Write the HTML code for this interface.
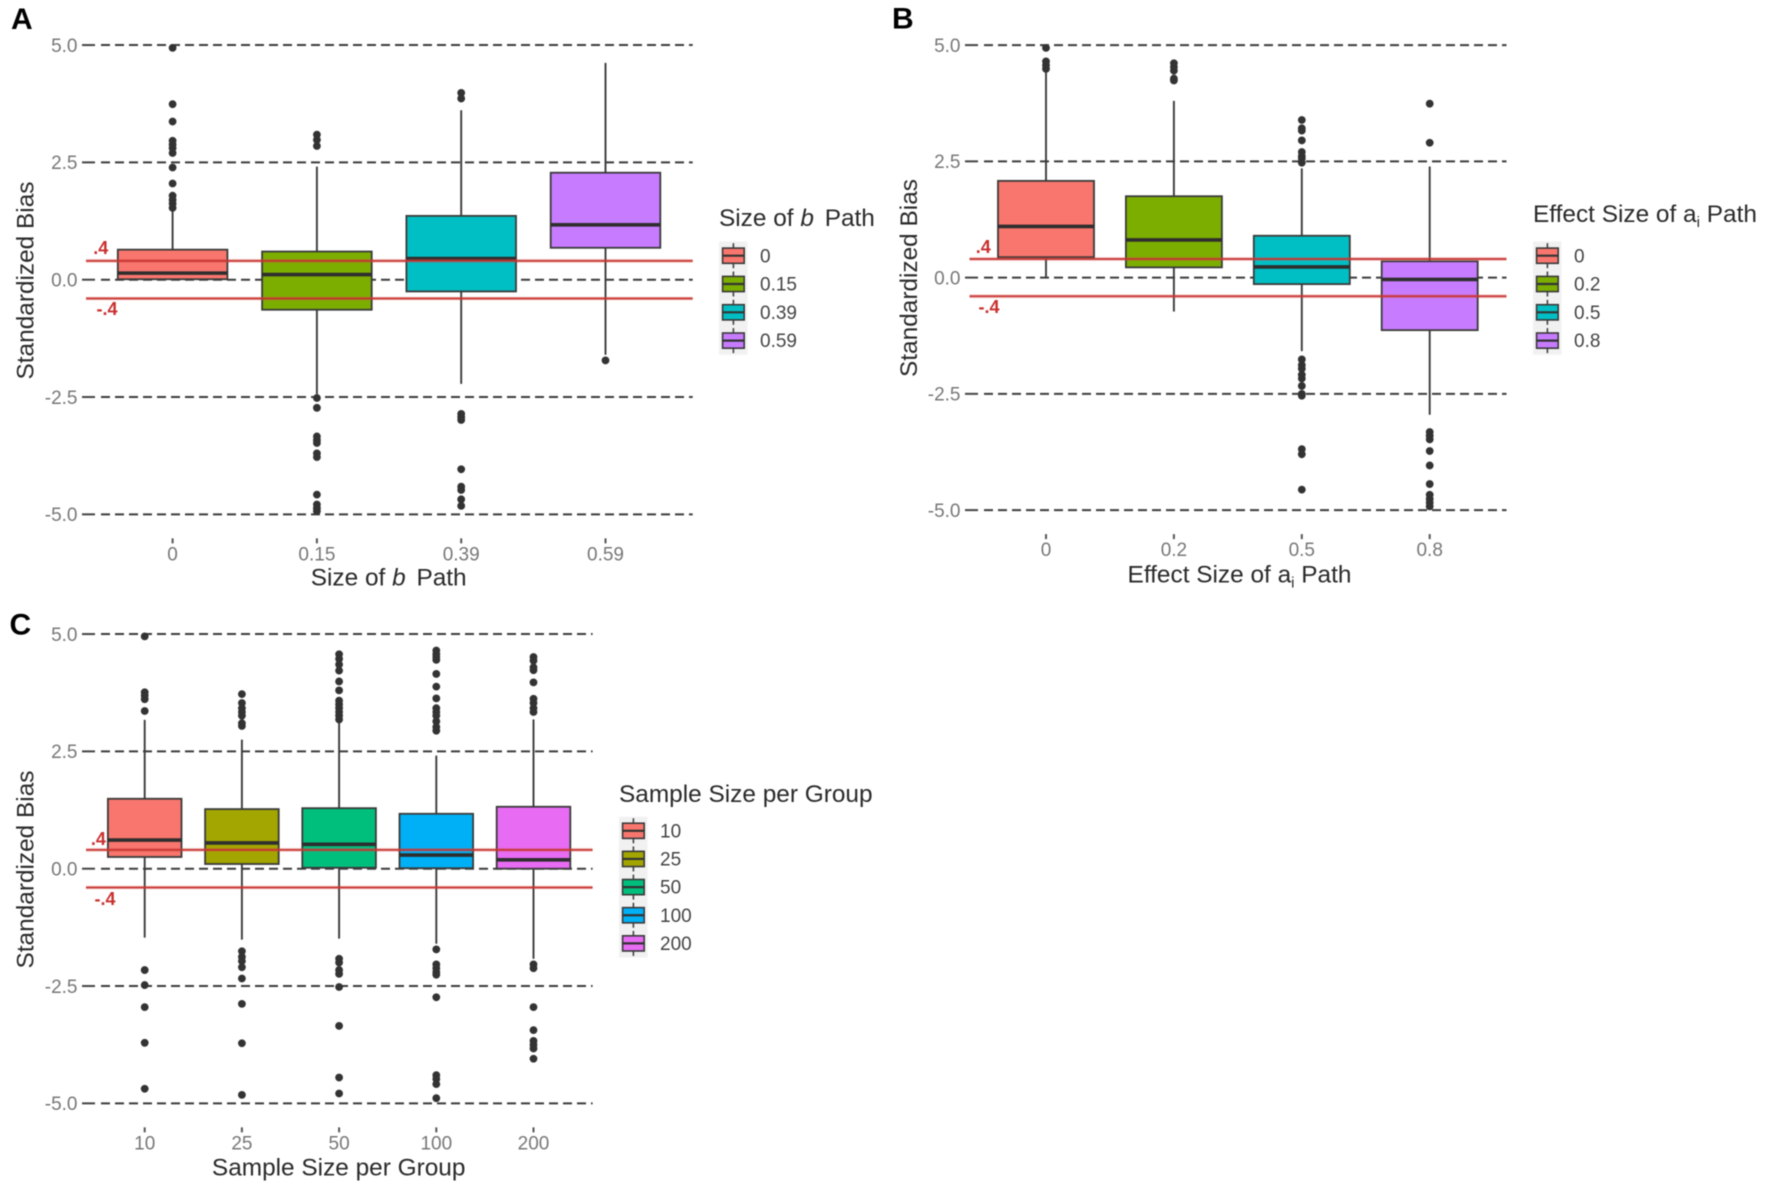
<!DOCTYPE html>
<html lang="en">
<head>
<meta charset="utf-8">
<title>Standardized Bias Boxplots</title>
<style>
html,body{margin:0;padding:0;background:#fff;}
svg{display:block;filter:blur(0.5px);font-family:"Liberation Sans",sans-serif;}
</style>
</head>
<body>
<svg id="chart" xmlns="http://www.w3.org/2000/svg" width="1772" height="1196" viewBox="0 0 1772 1196"></svg>
<script>
// Shared axis
const yTickValues = [5, 2.5, 0, -2.5, -5];
const yTickLabels = ["5.0", "2.5", "0.0", "-2.5", "-5.0"];
const referenceValues = [0.4, -0.4];
const referenceLabels = [".4", "-.4"];

// Panel A: size of b path
const aCategories = ["0", "0.15", "0.39", "0.59"];
const aQ3 = [0.64, 0.60, 1.36, 2.28];
const aMedian = [0.14, 0.11, 0.45, 1.17];
const aQ1 = [0.01, -0.64, -0.25, 0.68];
const aWhiskerHigh = [1.5, 2.41, 3.61, 4.62];
const aWhiskerLow = [0.01, -2.44, -2.22, -1.6];
const aOutliers = [
  [4.94, 3.74, 3.37, 2.96, 2.88, 2.8, 2.7, 2.39, 2.05, 1.79, 1.7, 1.62, 1.53],
  [3.09, 2.98, 2.85, -2.52, -2.73, -3.34, -3.42, -3.48, -3.7, -3.78, -4.58, -4.79, -4.87, -4.93],
  [3.98, 3.86, -2.86, -2.93, -2.99, -4.04, -4.41, -4.48, -4.68, -4.82],
  [-1.72]
];

// Panel B: effect size of a_i path
const bCategories = ["0", "0.2", "0.5", "0.8"];
const bQ3 = [2.08, 1.75, 0.90, 0.35];
const bMedian = [1.10, 0.81, 0.23, -0.04];
const bQ1 = [0.44, 0.22, -0.14, -1.13];
const bWhiskerHigh = [4.44, 3.8, 2.35, 2.39];
const bWhiskerLow = [0, -0.73, -1.58, -2.95];
const bOutliers = [
  [4.94, 4.65, 4.57, 4.49],
  [4.61, 4.53, 4.45, 4.28, 4.24],
  [3.39, 3.21, 3.16, 2.95, 2.7, 2.61, 2.56, 2.47, -1.76, -1.88, -1.96, -2.09, -2.17, -2.33, -2.5, -2.54, -3.69, -3.8, -4.56],
  [3.74, 2.9, -3.32, -3.4, -3.48, -3.73, -4.04, -4.44, -4.67, -4.76, -4.84, -4.92]
];

// Panel C: sample size per group
const cCategories = ["10", "25", "50", "100", "200"];
const cQ3 = [1.49, 1.27, 1.29, 1.17, 1.32];
const cMedian = [0.61, 0.55, 0.52, 0.29, 0.19];
const cQ1 = [0.25, 0.10, 0.02, 0.01, 0];
const cWhiskerHigh = [3.17, 2.75, 3.14, 2.41, 3.18];
const cWhiskerLow = [-1.47, -1.51, -1.49, -1.6, -1.92];
const cOutliers = [
  [4.95, 3.76, 3.69, 3.61, 3.36, -2.16, -2.48, -2.95, -3.71, -4.69],
  [3.72, 3.53, 3.42, 3.34, 3.26, 3.1, 3.04, -1.76, -1.88, -1.97, -2.1, -2.34, -2.88, -3.72, -4.82],
  [4.57, 4.47, 4.35, 4.22, 3.99, 3.8, 3.58, 3.5, 3.42, 3.34, 3.26, 3.18, -1.92, -2.0, -2.16, -2.24, -2.52, -3.35, -4.45, -4.79],
  [4.65, 4.57, 4.51, 4.45, 4.15, 3.88, 3.63, 3.42, 3.34, 3.26, 3.14, 3.02, 2.94, -1.72, -2.04, -2.12, -2.2, -2.26, -2.74, -4.4, -4.48, -4.59, -4.89],
  [4.51, 4.43, 4.29, 4.23, 3.97, 3.62, 3.53, 3.42, 3.34, -2.04, -2.12, -2.95, -3.44, -3.67, -3.75, -3.83, -4.05]
];

const colorsFour = ["#F8766D", "#7CAE00", "#00BFC4", "#C77CFF"];
const colorsFive = ["#F8766D", "#A3A500", "#00BF7D", "#00B0F6", "#E76BF3"];

const svg = document.getElementById('chart');
const NS = 'http://www.w3.org/2000/svg';

function mk(parent, tag, attrs, name, text) {
  const el = document.createElementNS(NS, tag);
  for (const k in attrs) el.setAttribute(k, attrs[k]);
  
  
  if (text !== undefined) el.textContent = text;
  parent.appendChild(el);
  return el;
}

function addTitle(parent, attrs, name, parts) {
  const t = mk(parent, 'text', attrs, name);
  parts.forEach(function (p) {
    const s = document.createElementNS(NS, 'tspan');
    s.textContent = p.text;
    if (p.italic) s.setAttribute('font-style', 'italic');
    if (p.sub) { s.setAttribute('font-size', '15'); s.setAttribute('dy', '5'); }
    if (p.dy) s.setAttribute('dy', p.dy);
    if (p.dx) s.setAttribute('dx', p.dx);
    t.appendChild(s);
  });
  return t;
}

function drawPanel(p) {
  const g = mk(svg, 'g', {}, p.id + '-panel');
  const yScale = function (v) { return p.yZero - v * p.yUnit; };
  const xScale = function (i) { return p.xStart + i * p.xStep; };

  mk(g, 'text', {x: p.letterX, y: p.letterY, 'font-size': 30, 'font-weight': 'bold', fill: '#000'}, p.id + '-panel-letter', p.letter);

  // y axis: ticks, labels and dashed reference lines
  yTickValues.forEach(function (v, i) {
    const y = yScale(v);
    mk(g, 'text', {x: p.left - 4.5, y: y + 6.8, 'font-size': 19, 'text-anchor': 'end', fill: '#777'}, p.id + '-y-tick-label', yTickLabels[i]);
    mk(g, 'line', {x1: p.left, x2: p.left + 13, y1: y, y2: y, stroke: '#444', 'stroke-width': 2}, p.id + '-y-tick');
    mk(g, 'line', {x1: p.left + 19, x2: p.right, y1: y, y2: y, stroke: '#3c3c3c', 'stroke-width': 2, 'stroke-dasharray': '9 5'}, p.id + '-dashed-gridline');
  });

  mk(g, 'text', {transform: 'translate(' + p.yTitleX + ',' + p.yTitleY + ') rotate(-90)', 'font-size': 24.4, 'text-anchor': 'middle', fill: '#2a2a2a'}, p.id + '-y-axis-title', 'Standardized Bias');

  // boxes
  p.categories.forEach(function (c, i) {
    const x = xScale(i);
    const bg = mk(g, 'g', {}, p.id + '-box-' + c);
    mk(bg, 'line', {x1: x, x2: x, y1: yScale(p.whiskerHigh[i]), y2: yScale(p.q3[i]), stroke: '#3a3a3a', 'stroke-width': 1.9}, p.id + '-upper-whisker');
    mk(bg, 'line', {x1: x, x2: x, y1: yScale(p.q1[i]), y2: yScale(p.whiskerLow[i]), stroke: '#3a3a3a', 'stroke-width': 1.9}, p.id + '-lower-whisker');
    mk(bg, 'rect', {x: x - p.boxHalf, y: yScale(p.q3[i]), width: p.boxHalf * 2, height: yScale(p.q1[i]) - yScale(p.q3[i]), fill: p.colors[i], stroke: '#3a3a3a', 'stroke-width': 1.8}, p.id + '-box-body');
    mk(bg, 'line', {x1: x - p.boxHalf, x2: x + p.boxHalf, y1: yScale(p.median[i]), y2: yScale(p.median[i]), stroke: '#2e2e2e', 'stroke-width': 3.6}, p.id + '-median-line');
    p.outliers[i].forEach(function (v) {
      mk(bg, 'circle', {cx: x, cy: yScale(v), r: 3.9, fill: '#333'}, p.id + '-outlier-point');
    });
    mk(g, 'line', {x1: x, x2: x, y1: yScale(-5) + 24, y2: yScale(-5) + 29, stroke: '#555', 'stroke-width': 2}, p.id + '-x-tick');
    mk(g, 'text', {x: x, y: yScale(-5) + 46, 'font-size': 19, 'text-anchor': 'middle', fill: '#777'}, p.id + '-x-tick-label', c);
  });

  // red reference lines
  referenceValues.forEach(function (v, i) {
    const y = yScale(v);
    mk(g, 'line', {x1: p.redLeft, x2: p.right, y1: y, y2: y, stroke: '#d9534f', 'stroke-width': 4, opacity: 0.25}, p.id + '-reference-halo');
    mk(g, 'line', {x1: p.redLeft, x2: p.right, y1: y, y2: y, stroke: '#c6332f', 'stroke-width': 2, opacity: 0.92}, p.id + '-reference-line');
    mk(g, 'text', {x: p.refLabelX[i], y: y + p.refLabelDy[i], 'font-size': 18, 'font-weight': 'bold', 'text-anchor': 'middle', fill: '#c9302f'}, p.id + '-reference-label', referenceLabels[i]);
  });

  addTitle(g, {x: p.xTitleX, y: p.xTitleY, 'font-size': 24.4, 'text-anchor': 'middle', fill: '#2a2a2a'}, p.id + '-x-axis-title', p.titleParts);

  // legend
  const lg = mk(g, 'g', {}, p.id + '-legend');
  addTitle(lg, {x: p.legendX, y: p.legendTitleY, 'font-size': 24.4, fill: '#2a2a2a'}, p.id + '-legend-title', p.titleParts);
  const n = p.categories.length;
  const step = p.legendStep;
  mk(lg, 'rect', {x: p.legendX, y: p.legendY - step / 2, width: 28.5, height: step * n, fill: '#f1f1f1'}, p.id + '-legend-key-background');
  p.categories.forEach(function (c, i) {
    const cy = p.legendY + i * step;
    const cx = p.legendX + 14.4;
    mk(lg, 'line', {x1: cx, x2: cx, y1: cy - 12.5, y2: cy + 12.5, stroke: '#444', 'stroke-width': 1.6}, p.id + '-legend-key-whisker');
    mk(lg, 'rect', {x: cx - 10.8, y: cy - 7.6, width: 21.6, height: 15.2, fill: p.colors[i], stroke: '#3a3a3a', 'stroke-width': 1.6}, p.id + '-legend-key-box');
    mk(lg, 'line', {x1: cx - 10.8, x2: cx + 10.8, y1: cy, y2: cy, stroke: '#333', 'stroke-width': 2.2}, p.id + '-legend-key-median');
    mk(lg, 'text', {x: p.legendX + 41, y: cy + 6.6, 'font-size': 19, fill: '#444'}, p.id + '-legend-label', c);
  });
}

drawPanel({
  id: 'a', letter: 'A', letterX: 11, letterY: 29.2,
  categories: aCategories, q3: aQ3, median: aMedian, q1: aQ1, whiskerHigh: aWhiskerHigh, whiskerLow: aWhiskerLow, outliers: aOutliers, colors: colorsFour,
  yZero: 279.7, yUnit: 46.93, xStart: 172.6, xStep: 144.3, boxHalf: 54.8,
  left: 82, right: 692.7, redLeft: 86,
  refLabelX: [100.7, 107], refLabelDy: [-7, 16.3],
  yTitleX: 33.5, yTitleY: 280.5,
  xTitleX: 388.7, xTitleY: 585.6,
  titleParts: [{text: 'Size of '}, {text: 'b', italic: true}, {text: ' Path', dx: 4}],
  legendX: 719, legendTitleY: 226, legendY: 255.7, legendStep: 28.3
});

drawPanel({
  id: 'b', letter: 'B', letterX: 892, letterY: 28.5,
  categories: bCategories, q3: bQ3, median: bMedian, q1: bQ1, whiskerHigh: bWhiskerHigh, whiskerLow: bWhiskerLow, outliers: bOutliers, colors: colorsFour,
  yZero: 277.6, yUnit: 46.5, xStart: 1046, xStep: 127.9, boxHalf: 48,
  left: 965, right: 1506.5, redLeft: 969.5,
  refLabelX: [983.3, 989], refLabelDy: [-6, 16.7],
  yTitleX: 917, yTitleY: 278,
  xTitleX: 1239.5, xTitleY: 582.7,
  titleParts: [{text: 'Effect Size of a'}, {text: 'i', sub: true}, {text: ' Path', dy: -5}],
  legendX: 1533, legendTitleY: 222, legendY: 255.7, legendStep: 28.3
});

drawPanel({
  id: 'c', letter: 'C', letterX: 9.5, letterY: 634.5,
  categories: cCategories, q3: cQ3, median: cMedian, q1: cQ1, whiskerHigh: cWhiskerHigh, whiskerLow: cWhiskerLow, outliers: cOutliers, colors: colorsFive,
  yZero: 868.7, yUnit: 46.93, xStart: 144.7, xStep: 97.2, boxHalf: 36.8,
  left: 82, right: 592.6, redLeft: 86,
  refLabelX: [98.4, 105], refLabelDy: [-5, 17.5],
  yTitleX: 33.5, yTitleY: 869.5,
  xTitleX: 338.7, xTitleY: 1175.4,
  titleParts: [{text: 'Sample Size per Group'}],
  legendX: 619, legendTitleY: 802, legendY: 830.8, legendStep: 28.15
});
</script>
</body>
</html>
